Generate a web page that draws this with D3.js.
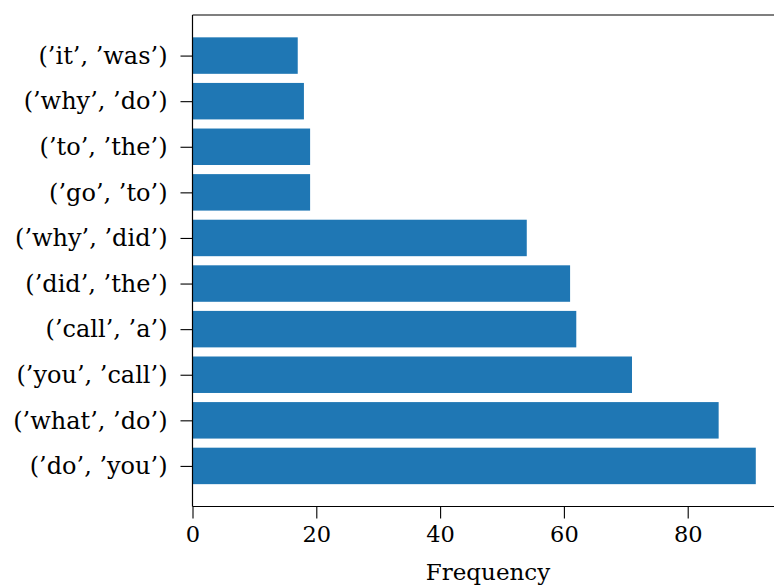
<!DOCTYPE html>
<html><head><meta charset="utf-8">
<script src="https://cdn.jsdelivr.net/npm/d3@7"></script>
<style>body{margin:0;background:#fff}svg{display:block}svg text{font-family:"DejaVu Serif",serif !important}</style>
</head><body><svg id="c" width="774" height="588"></svg>
<script>
const categories = ["('do', 'you')","('what', 'do')","('you', 'call')","('call', 'a')","('did', 'the')","('why', 'did')","('go', 'to')","('to', 'the')","('why', 'do')","('it', 'was')"];
const values = [91, 85, 71, 62, 61, 54, 19, 19, 18, 17];
const xTicks = [0, 20, 40, 60, 80];
const xLabel = "Frequency";

const svg = d3.select("#c");
const L = 192.5, T = 15, B = 506.5;
const x = d3.scaleLinear().domain([0, 95.55]).range([L, L + 95.55 * 6.19]);
const n = categories.length;
const y = d3.scaleLinear().domain([-0.89, n - 1 + 0.89]).range([B, T]);
const bh = (y(0) - y(0.8));

const fmt = s => s.replace(/'/g, "\u2019");

svg.append("g").selectAll("rect").data(values).join("rect")
  .attr("x", x(0)).attr("y", (d, i) => y(i + 0.4))
  .attr("width", d => x(d) - x(0)).attr("height", bh)
  .attr("fill", "#1f77b4");

// spines
svg.append("line").attr("x1", L).attr("x2", L).attr("y1", T).attr("y2", B).attr("stroke", "#000").attr("stroke-width", 1.2);
svg.append("line").attr("x1", L).attr("x2", 800).attr("y1", T).attr("y2", T).attr("stroke", "#000").attr("stroke-width", 1.2);
svg.append("line").attr("x1", L).attr("x2", 800).attr("y1", B).attr("y2", B).attr("stroke", "#000").attr("stroke-width", 1.2);

// x axis
const xa = svg.append("g").attr("transform", `translate(0,${B})`)
  .call(d3.axisBottom(x).tickValues(xTicks).tickSize(12).tickPadding(8).tickFormat(d3.format("d")));
xa.select(".domain").remove();
xa.selectAll("line").attr("stroke", "#000").attr("stroke-width", 1.1);
xa.selectAll("text").attr("font-size", 22.5).attr("fill", "#000");

// y axis
const ya = svg.append("g").attr("transform", `translate(${L},0)`)
  .call(d3.axisLeft(y).tickValues(d3.range(n)).tickSize(12).tickPadding(13).tickFormat(i => fmt(categories[i])));
ya.select(".domain").remove();
ya.selectAll("line").attr("stroke", "#000").attr("stroke-width", 1.1);
ya.selectAll("text").attr("font-size", 24).attr("fill", "#000");

svg.append("text").attr("x", 488).attr("y", 580).attr("text-anchor", "middle")
  .attr("font-size", 23).attr("fill", "#000").text(xLabel);
</script></body></html>
